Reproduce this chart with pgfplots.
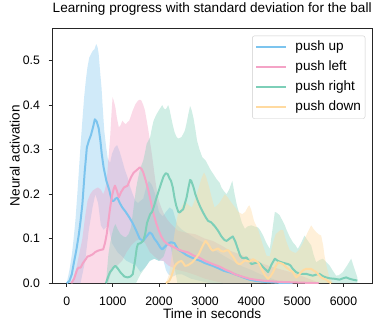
\documentclass[border=0pt]{standalone}
\usepackage{fontspec}
\setmainfont{Liberation Sans}
\usepackage{pgfplots}
\pgfplotsset{compat=1.18}
\usepgfplotslibrary{fillbetween}

\definecolor{cup}{HTML}{7CC4EE}
\definecolor{cleft}{HTML}{F4A3C6}
\definecolor{cright}{HTML}{7DCFB8}
\definecolor{cdown}{HTML}{FFDAA0}

\begin{document}
\begin{tikzpicture}
\begin{axis}[
    scale only axis,
    width=320bp, height=255bp,
    xmin=-318, xmax=6625,
    ymin=0, ymax=0.573,
    axis line style={black!85, line width=0.8bp},
    tick align=outside,
    tick pos=left,
    major tick length=3.5bp,
    every tick/.style={black!85, line width=0.8bp},
    xtick={0,1000,...,6000},
    ytick={0,0.1,...,0.5},
    scaled x ticks=false,
    /pgf/number format/assume math mode=true,
    xticklabel style={font=\fontsize{12.3}{14}\selectfont, inner sep=0pt, anchor=base, yshift=-18.5bp,
        /pgf/number format/set thousands separator={}},
    yticklabel style={font=\fontsize{12.3}{14}\selectfont, inner sep=0pt, anchor=east, xshift=-8.5bp,
        /pgf/number format/fixed, /pgf/number format/fixed zerofill, /pgf/number format/precision=1},
    title={Learning progress with standard deviation for the ball},
    title style={font=\fontsize{13.6}{16}\selectfont, at={(axis description cs:0.5,1.038)}, anchor=base, inner sep=0pt},
    xlabel={Time in seconds},
    xlabel style={font=\fontsize{13.6}{16}\selectfont, at={(axis description cs:0.5,-0.137)}, anchor=base, inner sep=0pt},
    ylabel={Neural activation},
    ylabel style={font=\fontsize{13.6}{16}\selectfont, at={(axis description cs:-0.1016,0.5)}, anchor=base, inner sep=0pt},
    legend style={at={(axis description cs:0.978,0.970)}, anchor=north east,
        draw=black!20, rounded corners=2bp, fill=white, fill opacity=0.8, text opacity=1,
        font=\fontsize{13.6}{16}\selectfont, inner xsep=3bp, inner ysep=3.8bp, row sep=5bp,
        nodes={inner sep=1bp, text height=10bp, text depth=3bp}},
    legend cell align=left,
    legend image code/.code={\draw[#1] (0bp,0bp) -- (30bp,0bp); \path (37bp,0bp);},
    every axis plot/.append style={line join=round},
]

% ---------- push up ----------
\addplot[cup, line width=2bp] coordinates {
(0,0) (60,0.005) (110,0.02) (150,0.043) (210,0.075) (264,0.11) (300,0.14) (340,0.178)
(390,0.25) (437,0.305) (480,0.32) (527,0.333) (570,0.35) (610,0.368) (650,0.363)
(693,0.348) (730,0.32) (760,0.29) (800,0.26) (860,0.23) (920,0.21) (980,0.185)
(1020,0.185) (1060,0.19) (1100,0.192) (1150,0.18) (1206,0.17) (1280,0.16) (1356,0.148)
(1430,0.135) (1507,0.118) (1583,0.1) (1658,0.095) (1730,0.105) (1800,0.114) (1850,0.11)
(1900,0.1) (1960,0.092) (2030,0.08) (2072,0.076) (2130,0.082) (2185,0.088) (2260,0.092)
(2336,0.09) (2411,0.076) (2500,0.07) (2600,0.063) (2700,0.058) (2788,0.054) (2900,0.05)
(3000,0.045) (3165,0.039) (3300,0.033) (3400,0.028) (3540,0.024) (3700,0.018)
(3850,0.012) (3964,0.008) (4100,0.005) (4300,0.003) (4600,0.001) (4900,0)
};
\addlegendentry{push up}
\addplot[draw=none, forget plot, name path=uphi] coordinates {
(0,0) (60,0.03) (113,0.065) (150,0.1) (188,0.14) (230,0.2) (264,0.253) (300,0.31)
(339,0.365) (380,0.42) (414,0.455) (450,0.485) (490,0.507) (530,0.515) (565,0.522)
(600,0.525) (640,0.537) (670,0.53) (693,0.515) (720,0.48) (754,0.44) (790,0.38)
(814,0.343) (850,0.31) (890,0.28) (940,0.27) (980,0.29) (1040,0.305) (1093,0.31)
(1150,0.295) (1206,0.275) (1260,0.255) (1319,0.238) (1380,0.215) (1432,0.2) (1490,0.185)
(1545,0.18) (1600,0.185) (1660,0.19) (1720,0.215) (1780,0.23) (1850,0.22) (1920,0.2)
(2000,0.16) (2080,0.15) (2150,0.16) (2230,0.17) (2300,0.165) (2400,0.13) (2500,0.12)
(2650,0.11) (2800,0.1) (3000,0.09) (3200,0.075) (3400,0.062) (3600,0.05) (3800,0.038)
(4000,0.03) (4200,0.02) (4400,0.012) (4600,0.005) (4800,0)
};
\addplot[draw=none, forget plot, name path=uplo] coordinates {
(0,0) (300,0) (400,0.05) (480,0.12) (560,0.17) (620,0.2) (680,0.18) (740,0.13)
(800,0.12) (900,0.13) (980,0.09) (1100,0.07) (1200,0.06) (1300,0.05) (1400,0.045)
(1500,0.04) (1600,0.025) (1700,0.035) (1800,0.05) (1900,0.055) (2000,0.05) (2100,0.05)
(2150,0.03) (2200,0.02) (2300,0.015) (2400,0.02) (2500,0.02) (2700,0.01) (2900,0.005)
(3100,0) (4800,0)
};
\addplot[cup, fill opacity=0.36, draw=none, forget plot] fill between[of=uphi and uplo];

% ---------- push left ----------
\addplot[cleft, line width=2bp] coordinates {
(100,0) (160,0.01) (226,0.031) (260,0.035) (301,0.035) (350,0.045) (414,0.054)
(450,0.06) (490,0.061) (530,0.063) (565,0.065) (620,0.07) (678,0.073) (740,0.075)
(791,0.076) (830,0.09) (867,0.11) (905,0.14) (942,0.17) (980,0.195) (1017,0.211)
(1045,0.219) (1080,0.21) (1130,0.193) (1180,0.205) (1243,0.215) (1319,0.219)
(1394,0.238) (1450,0.248) (1507,0.253) (1583,0.26) (1620,0.257) (1658,0.249)
(1715,0.23) (1771,0.208) (1830,0.18) (1884,0.155) (1940,0.135) (1997,0.118)
(2050,0.105) (2110,0.095) (2180,0.088) (2261,0.084) (2340,0.08) (2411,0.076)
(2520,0.072) (2637,0.069) (2750,0.062) (2864,0.058) (3000,0.05) (3165,0.043)
(3320,0.037) (3450,0.03) (3541,0.026) (3650,0.02) (3800,0.015) (3964,0.01)
(4150,0.007) (4321,0.005) (4600,0.003) (5036,0.0015) (5464,0)
};
\addlegendentry{push left}
\addplot[draw=none, forget plot, name path=lefthi] coordinates {
(100,0) (200,0.03) (280,0.07) (339,0.1) (400,0.15) (452,0.185) (510,0.2) (565,0.208)
(620,0.212) (678,0.215) (740,0.21) (791,0.2) (830,0.21) (867,0.23) (905,0.28)
(942,0.328) (970,0.38) (995,0.418) (1020,0.41) (1055,0.395) (1090,0.37) (1130,0.35)
(1170,0.355) (1206,0.365) (1245,0.36) (1281,0.357) (1320,0.362) (1356,0.365)
(1400,0.378) (1432,0.388) (1490,0.402) (1545,0.41) (1590,0.412) (1620,0.41) (1660,0.4)
(1696,0.388) (1735,0.365) (1771,0.343) (1810,0.315) (1846,0.29) (1885,0.26)
(1922,0.23) (1960,0.205) (1997,0.185) (2050,0.17) (2110,0.155) (2180,0.143)
(2261,0.133) (2340,0.125) (2411,0.118) (2600,0.113) (2788,0.11) (3000,0.1)
(3165,0.095) (3350,0.085) (3541,0.073) (3750,0.065) (3919,0.058) (4100,0.05)
(4300,0.042) (4500,0.035) (4750,0.028) (5000,0.02) (5250,0.01) (5500,0)
};
\addplot[draw=none, forget plot, name path=leftlo] coordinates {
(100,0) (900,0) (950,0.02) (1000,0.03) (1100,0.04) (1200,0.05) (1300,0.07)
(1400,0.085) (1500,0.095) (1600,0.1) (1700,0.09) (1800,0.07) (1900,0.06) (2000,0.052)
(2100,0.05) (2200,0.04) (2300,0.035) (2400,0.03) (2600,0.025) (2800,0.018) (3000,0.01)
(3200,0.005) (3400,0) (5500,0)
};
\addplot[cleft, fill opacity=0.4, draw=none, forget plot] fill between[of=lefthi and leftlo];

% ---------- push right ----------
\addplot[cright, line width=2bp] coordinates {
(850,0) (900,0.015) (940,0.025) (980,0.03) (1020,0.036) (1055,0.039) (1100,0.034)
(1168,0.024) (1250,0.015) (1319,0.013) (1380,0.015) (1432,0.02) (1480,0.05)
(1520,0.08) (1545,0.088) (1600,0.09) (1658,0.095) (1700,0.11) (1740,0.135)
(1809,0.155) (1850,0.16) (1884,0.17) (1940,0.19) (1997,0.208) (2050,0.225) (2100,0.24)
(2148,0.247) (2190,0.245) (2230,0.235) (2261,0.23) (2300,0.215) (2340,0.19)
(2374,0.174) (2420,0.16) (2449,0.159) (2490,0.163) (2525,0.166) (2560,0.178)
(2600,0.193) (2640,0.215) (2675,0.232) (2700,0.23) (2750,0.215) (2788,0.2)
(2840,0.185) (2901,0.17) (2960,0.158) (3014,0.148) (3065,0.14) (3127,0.137)
(3210,0.128) (3280,0.118) (3354,0.105) (3420,0.097) (3466,0.095) (3530,0.1)
(3600,0.105) (3650,0.095) (3700,0.08) (3760,0.062) (3800,0.057) (3850,0.056)
(3897,0.058) (3950,0.05) (4005,0.043) (4080,0.045) (4150,0.047) (4210,0.042)
(4258,0.036) (4320,0.03) (4367,0.025) (4440,0.042) (4512,0.055) (4580,0.05)
(4655,0.047) (4720,0.045) (4800,0.043) (4850,0.04) (4902,0.032) (4970,0.025)
(5046,0.021) (5120,0.021) (5191,0.021) (5260,0.019) (5336,0.017) (5400,0.019)
(5480,0.021) (5550,0.016) (5625,0.013) (5700,0.011) (5806,0.01) (5914,0.008)
(5990,0.011) (6058,0.013) (6130,0.01) (6203,0.008) (6300,0.006)
};
\addlegendentry{push right}
\addplot[draw=none, forget plot, name path=righthi] coordinates {
(850,0) (904,0.065) (940,0.09) (980,0.11) (1020,0.125) (1055,0.133) (1110,0.12)
(1168,0.11) (1230,0.105) (1281,0.103) (1340,0.11) (1394,0.125) (1450,0.17)
(1507,0.215) (1545,0.235) (1583,0.253) (1620,0.265) (1658,0.275) (1700,0.295)
(1733,0.313) (1770,0.32) (1809,0.328) (1850,0.35) (1884,0.365) (1940,0.378)
(1997,0.388) (2040,0.395) (2072,0.4) (2110,0.392) (2148,0.39) (2175,0.395) (2200,0.4)
(2230,0.39) (2261,0.374) (2300,0.355) (2336,0.34) (2374,0.33) (2411,0.325)
(2449,0.326) (2487,0.328) (2525,0.335) (2562,0.343) (2600,0.36) (2637,0.38)
(2675,0.398) (2710,0.388) (2750,0.37) (2790,0.345) (2826,0.32) (2880,0.3)
(2939,0.283) (3014,0.275) (3065,0.265) (3127,0.253) (3180,0.245) (3240,0.235)
(3318,0.225) (3353,0.215) (3420,0.205) (3466,0.2) (3520,0.21) (3590,0.23) (3640,0.2)
(3690,0.175) (3752,0.152) (3800,0.135) (3861,0.122) (3930,0.128) (4005,0.13)
(4080,0.127) (4150,0.125) (4200,0.118) (4258,0.107) (4330,0.09) (4403,0.077)
(4460,0.12) (4512,0.16) (4560,0.158) (4620,0.152) (4680,0.14) (4729,0.13)
(4757,0.122) (4830,0.105) (4902,0.092) (4960,0.085) (5010,0.077) (5080,0.09)
(5155,0.107) (5230,0.095) (5300,0.085) (5350,0.065) (5408,0.047) (5480,0.052)
(5553,0.055) (5620,0.048) (5697,0.04) (5770,0.028) (5842,0.017) (5900,0.018)
(5986,0.025) (6080,0.04) (6167,0.055) (6240,0.032) (6300,0.013)
};
\addplot[draw=none, forget plot, name path=rightlo] coordinates {
(850,0) (1500,0) (1600,0.02) (1700,0.035) (1800,0.05) (1900,0.055) (2000,0.05)
(2100,0.06) (2200,0.09) (2260,0.08) (2330,0.04) (2400,0) (6300,0)
};
\addplot[cright, fill opacity=0.36, draw=none, forget plot] fill between[of=righthi and rightlo];

% ---------- push down ----------
\addplot[cdown, line width=2bp] coordinates {
(2150,0) (2220,0.005) (2261,0.013) (2300,0.025) (2340,0.038) (2374,0.043) (2430,0.048)
(2487,0.05) (2530,0.045) (2562,0.039) (2620,0.04) (2680,0.044) (2713,0.046)
(2790,0.055) (2864,0.065) (2930,0.08) (2980,0.09) (3010,0.095) (3065,0.088)
(3120,0.078) (3165,0.073) (3210,0.075) (3278,0.078) (3354,0.072) (3400,0.071)
(3470,0.074) (3504,0.074) (3571,0.064) (3617,0.058) (3680,0.047) (3730,0.043)
(3768,0.043) (3800,0.046) (3860,0.051) (3920,0.05) (3960,0.048) (4041,0.054)
(4100,0.05) (4150,0.047) (4210,0.035) (4258,0.025) (4310,0.016) (4367,0.01)
(4420,0.016) (4475,0.025) (4530,0.038) (4584,0.047) (4640,0.045) (4692,0.043)
(4757,0.036) (4830,0.03) (4902,0.025) (4974,0.013) (5030,0.018) (5083,0.025)
(5140,0.03) (5191,0.032) (5300,0.032) (5360,0.028) (5408,0.025) (5460,0.019)
(5517,0.013) (5570,0.01) (5625,0.008) (5680,0.003) (5733,0)
};
\addlegendentry{push down}
\addplot[draw=none, forget plot, name path=downhi] coordinates {
(2150,0) (2220,0.02) (2261,0.05) (2300,0.08) (2336,0.11) (2374,0.135) (2411,0.155)
(2450,0.165) (2487,0.17) (2525,0.178) (2562,0.185) (2600,0.18) (2650,0.175)
(2713,0.17) (2790,0.19) (2864,0.215) (2920,0.235) (2977,0.249) (3020,0.24)
(3090,0.215) (3150,0.19) (3203,0.17) (3260,0.175) (3316,0.181) (3370,0.19)
(3429,0.2) (3490,0.193) (3541,0.185) (3600,0.177) (3655,0.17) (3720,0.16)
(3805,0.155) (3870,0.16) (3930,0.172) (3960,0.175) (4000,0.165) (4060,0.14)
(4150,0.12) (4240,0.09) (4330,0.062) (4400,0.06) (4470,0.09) (4530,0.11)
(4584,0.115) (4640,0.12) (4692,0.12) (4757,0.095) (4830,0.075) (4902,0.07)
(4970,0.068) (5040,0.075) (5120,0.09) (5191,0.107) (5250,0.12) (5300,0.13)
(5350,0.122) (5408,0.115) (5460,0.11) (5517,0.107) (5560,0.085) (5589,0.062)
(5640,0.035) (5697,0.013) (5770,0)
};
\addplot[draw=none, forget plot, name path=downlo] coordinates {
(2150,0) (5770,0)
};
\addplot[cdown, fill opacity=0.4, draw=none, forget plot] fill between[of=downhi and downlo];

\end{axis}
\pgfresetboundingbox
\path[use as bounding box] ([shift={(-52bp,-46bp)}]current axis.south west)
    rectangle ([shift={(9.7bp,28bp)}]current axis.north east);
\end{tikzpicture}
\end{document}
